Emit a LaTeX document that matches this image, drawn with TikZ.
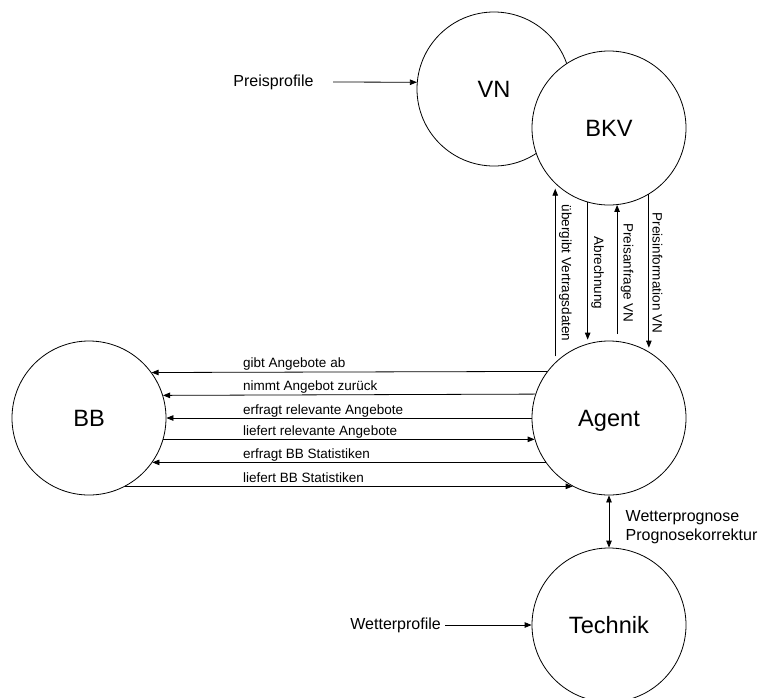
\documentclass[tikz,border=0pt]{standalone}
\usepackage{fontspec}
\setmainfont{Liberation Sans}
\usetikzlibrary{arrows.meta}
\tikzset{
  dfd circle/.style={circle, draw, fill=white, line width=0.8pt, minimum size=154pt, inner sep=0pt,
    text height=16.9pt, text depth=0pt, font=\fontsize{23.6}{28}\selectfont},
  dfd flow/.style={draw, line width=0.8pt},
  dfd label/.style={font=\fontsize{13.5}{16}\selectfont},
  dfd source/.style={font=\fontsize{16}{19}\selectfont},
}

\begin{document}
\begin{tikzpicture}[x=1pt, y=-1pt, >={Triangle[length=7pt,width=5.5pt]}]
  \clip (0,0) rectangle (763,697);
  \fill[white] (0,0) rectangle (763,697);
  % Circles (BKV drawn over VN)
  \node[dfd circle] (vn) at (494,89) {VN};
  \node[dfd circle] (bkv) at (609,128) {BKV};
  \node[dfd circle] (bb) at (89,418) {BB};
  \node[dfd circle] (agent) at (609,418) {Agent};
  \node[dfd circle] (technik) at (609,625) {Technik};
  % External inputs
  \node[dfd source, anchor=east] (preis) at (317,82) {Preisprofile};
  \draw[dfd flow, ->] ([xshift=16pt]preis.east) -- (vn.175);
  \node[dfd source, anchor=east, inner sep=1pt] (wetter) at (442,625) {Wetterprofile};
  \draw[dfd flow, ->] ([xshift=3pt]wetter.east) -- (technik.west);
  % BB <-> Agent
  \coordinate (lblx) at (243,0);
  \foreach \s/\t/\txt in {agent.143.3/bb.36.7/gibt Angebote ab,
      agent.162.6/bb.17.4/nimmt Angebot zurück,
      agent.180/bb.0/erfragt relevante Angebote,
      bb.-16.6/agent.196.6/liefert relevante Angebote,
      agent.215.8/bb.-35.8/erfragt BB Statistiken,
      bb.-62/agent.242/liefert BB Statistiken} {
    \draw[dfd flow, ->] (\s) -- (\t);
    \node[dfd label, anchor=base west, inner sep=0pt] at ([yshift=4pt]\s -| lblx) {\txt};
  }
  % Agent <-> BKV
  \draw[dfd flow, ->, shorten <=6pt, shorten >=5pt] (agent.134.5) -- (bkv.-134.5)
    node[dfd label, midway, rotate=-90, anchor=south] {übergibt Vertragsdaten};
  \draw[dfd flow, ->, shorten >=4pt] (bkv.-106.6) -- (agent.106.6)
    node[dfd label, midway, rotate=-90, anchor=south] {Abrechnung};
  \draw[dfd flow, ->, shorten <=7pt] (agent.84) -- (bkv.-84)
    node[dfd label, midway, rotate=-90, anchor=south] {Preisanfrage VN};
  \draw[dfd flow, ->, shorten >=4pt] (bkv.-59.6) -- (agent.59.6)
    node[dfd label, midway, rotate=-90, anchor=south] {Preisinformation VN};
  % Agent <-> Technik
  \draw[dfd flow, <->] (agent.south) -- (technik.north)
    node[dfd source, midway, anchor=west, align=left, xshift=13pt, yshift=-6pt] {Wetterprognose\\Prognosekorrektur};
\end{tikzpicture}
\end{document}
